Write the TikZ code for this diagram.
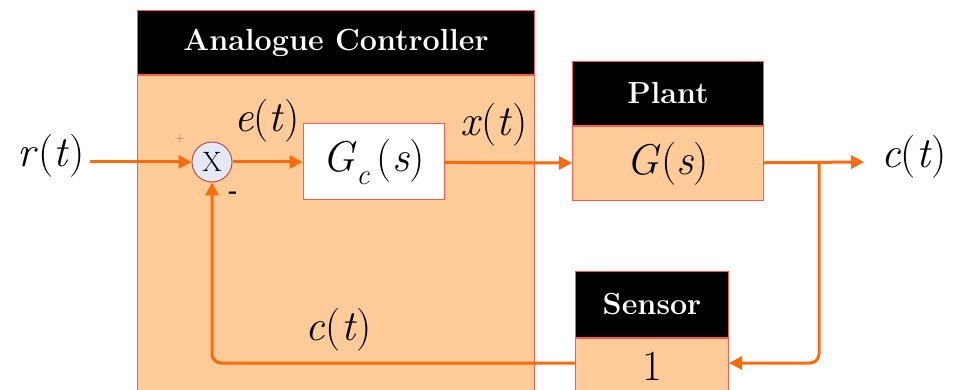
\documentclass[tikz,border=0pt]{standalone}
\usetikzlibrary{positioning,arrows.meta,calc}
\definecolor{peach}{HTML}{FFCB99}
\definecolor{flame}{HTML}{FF6A0A}
\definecolor{edge}{HTML}{FF5A50}
\definecolor{knob}{HTML}{E4E8F4}
\definecolor{knobedge}{HTML}{B0504A}
\tikzset{
  %% blocks
  head/.style  = {draw=edge, line width=1pt, fill=black, text=white,
                  font=\fontsize{30.5}{33}\selectfont\bfseries,
                  anchor=north west, inner sep=0pt},
  body/.style  = {draw=edge, line width=1pt, fill=peach,
                  anchor=north west, inner sep=0pt},
  %% signals
  sig/.style   = {draw=flame, line width=3pt,
                  -{Triangle[length=13pt,width=13pt]}},
  %% labels
  lbl/.style   = {font=\fontsize{43}{47}\selectfont, inner sep=0pt},
}
\newcommand{\sv}[1]{\textit{#1}}

\begin{document}
\begin{tikzpicture}[x=1pt, y=-1pt]
\clip (0,0) rectangle (954,390);

%% controller
\node[head, minimum width=397pt, minimum height=64pt] (ctrlhead) at (137,10) {Analogue Controller};
\node[body, minimum width=397pt, minimum height=330pt] (ctrl) at (ctrlhead.south west) {};

%% plant
\node[head, minimum width=191pt, minimum height=64pt] (planthead) at (572,61) {Plant};
\node[body, minimum width=191pt, minimum height=74pt, lbl] (plant) at (planthead.south west) {\sv{G}(\sv{s})};

%% sensor
\node[head, minimum width=153pt, minimum height=66pt] (sensorhead) at (575,271) {Sensor};
\node[body, minimum width=153pt, minimum height=56pt, lbl] (sensor) at (sensorhead.south west) {1};

%% inside the controller
\node[circle, draw=knobedge, fill=knob, line width=1pt, minimum size=40pt,
      inner sep=0pt, font=\fontsize{28}{30}\selectfont] (sum) at (212,162) {X};
\node[draw=edge, fill=white, line width=1pt, minimum width=141pt,
      minimum height=76pt, lbl] (gc) at (373.5,162)
      {\sv{G}\raisebox{-0.3em}{\fontsize{29}{30}\selectfont\sv{c}}\,(\sv{s})};

%% end points
\coordinate (in)  at (90,162);
\coordinate (out) at (864,162);
\coordinate (tap) at (819,162);
\coordinate (fb)  at (819,363);

%% signals
\draw[sig] (in) -- (sum);
\draw[sig] (sum) -- (gc);
\draw[sig] (gc) -- (plant);
\draw[sig] (plant) -- (out);
\draw[sig, rounded corners=9pt] (tap) -- (fb) -- (fb -| sensor.east);
\draw[sig, rounded corners=9pt] (fb -| sensor.west) -| (sum.south);

%% labels
\node[lbl] (rlbl) at (51,156) {\sv{r}(\sv{t})};
\node[lbl] (elbl) at (267,121) {\sv{e}(\sv{t})};
\node[lbl] (xlbl) at (494,125) {\sv{x}(\sv{t})};
\node[lbl] (clbl) at (914,157) {\sv{c}(\sv{t})};
\node[lbl] (fblbl) at (339,330) {\sv{c}(\sv{t})};
\node[font=\fontsize{14}{16}\selectfont, text=gray, inner sep=0pt] (plus) at (180,139) {+};
\node[font=\fontsize{24}{26}\selectfont\bfseries, inner sep=0pt] (minus) at (233,195) {-};

\end{tikzpicture}
\end{document}
